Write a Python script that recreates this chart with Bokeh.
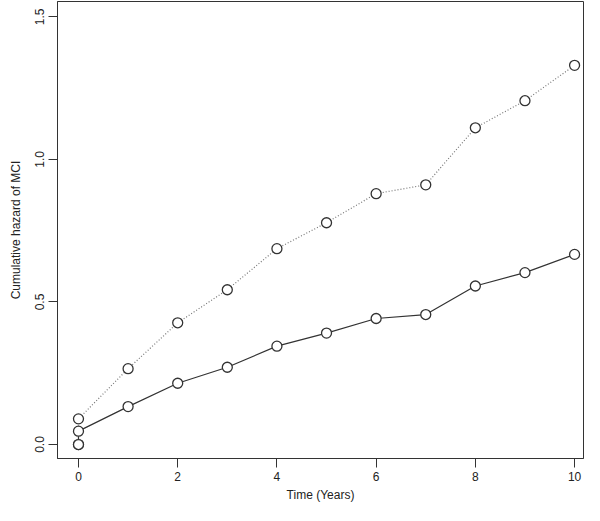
from bokeh.plotting import figure
from bokeh.models import FixedTicker, NumeralTickFormatter, Range1d
from bokeh.embed import file_html
from bokeh.resources import INLINE

# Data
time_years = [0, 0, 1, 2, 3, 4, 5, 6, 7, 8, 9, 10]
hazard_solid = [0.0, 0.047, 0.133, 0.215, 0.271, 0.345, 0.391, 0.442, 0.456, 0.556, 0.603, 0.667]
hazard_dotted = [0.0, 0.090, 0.266, 0.427, 0.543, 0.687, 0.778, 0.880, 0.911, 1.111, 1.206, 1.330]
x_ticks = [0, 2, 4, 6, 8, 10]
y_ticks = [0.0, 0.5, 1.0, 1.5]

FONT = "Liberation Sans"
TXT = "#222222"
DARK = "#333333"

p = figure(width=584, height=505, output_backend="svg", toolbar_location=None,
           x_range=Range1d(-0.423, 10.18), y_range=Range1d(-0.049, 1.554),
           min_border_left=57, min_border_right=1, min_border_top=1, min_border_bottom=47,
           background_fill_color="white", border_fill_color="white")

p.xgrid.visible = False
p.ygrid.visible = False
p.outline_line_color = DARK
p.outline_line_width = 1

p.xaxis.axis_label = "Time (Years)"
p.yaxis.axis_label = "Cumulative hazard of MCI"
p.xaxis.ticker = FixedTicker(ticks=x_ticks)
p.yaxis.ticker = FixedTicker(ticks=y_ticks)
p.yaxis.formatter = NumeralTickFormatter(format="0.0")
p.yaxis.major_label_orientation = "vertical"

for ax in (p.xaxis, p.yaxis):
    ax.axis_line_color = DARK
    ax.major_tick_line_color = DARK
    ax.minor_tick_line_color = None
    ax.major_tick_in = 0
    ax.major_tick_out = 9
    ax.major_label_standoff = 4
    ax.major_label_text_font = FONT
    ax.major_label_text_font_size = "12px"
    ax.major_label_text_color = TXT
    ax.axis_label_text_font = FONT
    ax.axis_label_text_font_size = "12px"
    ax.axis_label_text_font_style = "normal"
    ax.axis_label_text_color = TXT
p.xaxis.axis_label_standoff = 4
p.yaxis.axis_label_standoff = 10

# lines
p.line(time_years, hazard_dotted, line_color="#777777", line_width=1.2, line_dash="1 2")
p.line(time_years, hazard_solid, line_color=DARK, line_width=1.2)
# points
p.scatter(time_years, hazard_dotted, marker="circle", size=10, fill_color="white",
          line_color=DARK, line_width=1.3)
p.scatter(time_years, hazard_solid, marker="circle", size=10, fill_color="white",
          line_color=DARK, line_width=1.3)

open("out.html", "w").write(file_html(p, INLINE))
